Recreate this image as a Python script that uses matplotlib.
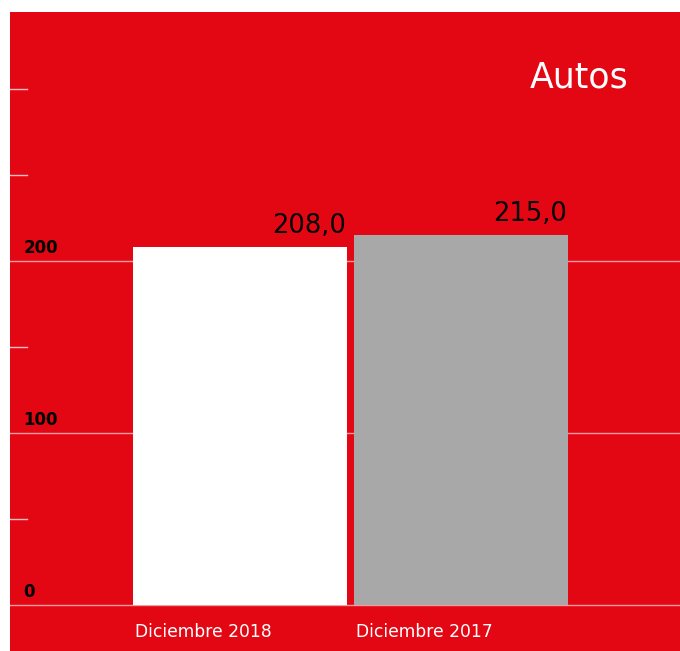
import matplotlib
matplotlib.use("Agg")
import matplotlib.pyplot as plt

categories = ["Diciembre 2018", "Diciembre 2017"]
values = [208.0, 215.0]
value_labels = ["208,0", "215,0"]
bar_colors = ["#FFFFFF", "#A8A8A8"]
title = "Autos"
major_ticks = [0, 100, 200]
minor_ticks = [50, 150, 250, 300]

RED = "#E30613"
plt.rcParams['font.family'] = ['DejaVu Sans']

fig = plt.figure(figsize=(6.8, 6.51), dpi=100, facecolor="white")
ax = fig.add_axes([10/680, 0, 670/680, 1 - 12/651])
ax.set_facecolor(RED)

x = list(range(len(categories)))
width = 214/221
ax.bar(x, values, width=width, color=bar_colors, zorder=3)

ax.set_xlim(-230/221, 440/221)
ax.set_ylim(-46/1.72, 593/1.72)

for t in major_ticks:
    ax.annotate(str(t), xy=(0, t), xycoords=("axes fraction", "data"),
                xytext=(9.5, 5.8), textcoords="offset points",
                ha="left", va="baseline", fontsize=12, fontweight="bold",
                color="black", zorder=5)
    ax.axhline(t, color="white", alpha=0.6, lw=1, zorder=1)
for t in minor_ticks:
    ax.axhline(t, xmin=0, xmax=17/670, color="white", alpha=0.75, lw=1, zorder=1)

for xi, v, lab in zip(x, values, value_labels):
    ax.annotate(lab, xy=(xi + width/2, v), xytext=(-1, 10.5),
                textcoords="offset points", ha="right", va="baseline",
                fontsize=18.5, color="black", zorder=5)

for xi, cat in zip(x, categories):
    ax.annotate(cat, xy=(xi - width/2, 0), xytext=(1.5, -23),
                textcoords="offset points", ha="left", va="baseline",
                fontsize=12.3, color="white", zorder=5)

ax.text(618/670, (651-87)/639, title, transform=ax.transAxes, ha="right",
        va="baseline", fontsize=25, color="white")

for s in ax.spines.values():
    s.set_visible(False)
ax.set_xticks([])
ax.set_yticks([])

fig.savefig("out.png", dpi=100, facecolor="white")
